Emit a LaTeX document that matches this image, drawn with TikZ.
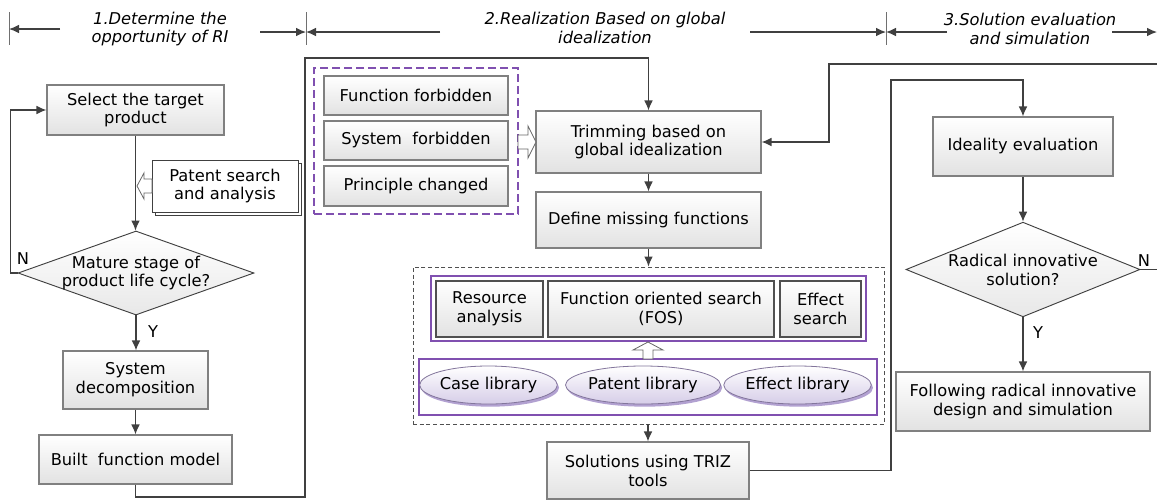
\documentclass[tikz,border=0pt]{standalone}
\usepackage{fontspec}
\setmainfont{DejaVu Sans}
\usetikzlibrary{arrows.meta,shapes.geometric,shadows,calc}
\definecolor{lineclr}{HTML}{404040}
\definecolor{boxedge}{HTML}{808080}
\definecolor{darkedge}{HTML}{505050}
\definecolor{boxbot}{HTML}{E2E2E2}
\definecolor{purp}{HTML}{8050B0}
\definecolor{ellfill}{HTML}{D6CDE8}
\definecolor{ellshade}{HTML}{AE9CCF}
\definecolor{tickclr}{HTML}{707070}
% a node spanning the pixel rectangle (x1,y1)-(x2,y2): [style]{name}{x1}{y1}{x2}{y2}{text}
\newcommand\pbox[7][box]{%
  \node[#1, minimum width={(#5-#3)*0.75pt}, minimum height={(#6-#4)*0.75pt}]
    (#2) at ({(#3+#5)/2},{(#4+#6)/2}) {#7};}
\begin{document}
\begin{tikzpicture}[x=0.75pt,y=-0.75pt,
  font=\fontsize{12.2}{14.2}\selectfont,
  box/.style={draw=boxedge, line width=0.8pt, top color=white, bottom color=boxbot,
              inner sep=0pt, align=center},
  dbox/.style={box, draw=darkedge},
  plain/.style={draw=lineclr, line width=0.7pt, fill=white, inner sep=0pt, align=center},
  frame/.style={draw=purp, line width=0.8pt, fill=white, inner sep=0pt},
  dia/.style={diamond, draw=lineclr, line width=0.7pt, top color=white, bottom color=boxbot!80,
              inner sep=0pt},
  ell/.style={ellipse, draw=ellshade!75!black, line width=0.6pt, top color=white, bottom color=ellfill,
              inner sep=0pt, align=center,
              drop shadow={shadow xshift=1.3pt, shadow yshift=-2pt, fill=ellshade, opacity=0.95}},
  ln/.style={draw=lineclr, line width=0.9pt},
  arr/.style={ln, -{Latex[length=7.5pt,width=6.5pt]}},
  hollow/.style={draw=lineclr!80, line width=0.6pt, fill=white},
  tick/.style={draw=tickclr, line width=0.7pt},
  hdr/.style={font=\fontsize{12.2}{13.8}\selectfont\itshape, align=center, text=black},
  lbl/.style={inner sep=0pt}]
\useasboundingbox (0,0) rectangle (1157,501);

% ---------- phase headers ----------
\coordinate (t1a) at (9,12);   \coordinate (t1b) at (9,45);
\coordinate (t2a) at (306,12); \coordinate (t2b) at (306,45);
\coordinate (t3a) at (886,12); \coordinate (t3b) at (886,45);
\draw[tick] (t1a) -- (t1b);
\draw[tick] (t2a) -- (t2b);
\draw[tick] (t3a) -- (t3b);
\node[hdr] (h1) at (160,29) {1.Determine the\\opportunity of RI};
\node[hdr] (h2) at (605,28) {2.Realization Based on global\\idealization};
\node[hdr] (h3) at (1030,29) {3.Solution evaluation\\and simulation};
\draw[arr] (60,29) -- (t1a |- 0,29);
\draw[arr] (260,32) -- (t2a |- 0,32);
\draw[arr] (440,32) -- (t2a |- 0,32);
\draw[arr] (750,32) -- (t3a |- 0,32);
\draw[arr] (947,32) -- (t3a |- 0,32);
\draw[arr] (1112,32) -- (1157,32);

% ---------- phase 1 ----------
\pbox{sel}{47}{85}{224}{135}{Select the target\\product}
\pbox[plain]{patsh}{155}{163}{301}{215}{}
\pbox[plain]{pat}{152}{160}{298}{212}{Patent search\\and analysis}
\node[dia, minimum width=177pt, minimum height=63pt] (mat) at (136,273) {};
\node[lbl, align=center] (matt) at (mat) {Mature stage of\\product life cycle?};
\pbox{sys}{63}{351}{208}{409}{System\\decomposition}
\pbox{blt}{39}{435}{232}{484}{Built~~function model}

\draw[arr] (sel.south) -- (sel.south |- mat.north);
\draw[hollow] (152,179) -- (144,179) -- (144,173) -- (137,186) -- (144,199)
              -- (144,193) -- (152,193) -- cycle;
\draw[arr] (mat.west) -- ++(-7,0) |- (sel.west);
\node[lbl] (nl1) at (23,259) {N};
\draw[arr] (mat.south) -- (mat.south |- sys.north);
\node[lbl] (yl1) at (153,332) {Y};
\draw[arr] (sys.south) -- (sys.south |- blt.north);

% ---------- phase 2 ----------
\pbox[{draw=purp, line width=0.9pt, dash pattern=on 6pt off 3pt, inner sep=0pt}]{forb}{314}{68}{518}{214}{}
\pbox{ff}{324}{76}{508}{115}{Function forbidden}
\pbox{sf}{324}{121}{508}{160}{System~~forbidden}
\pbox{pc}{324}{166}{508}{206}{Principle changed}

\pbox{trim}{536}{111}{761}{173}{Trimming based on\\global idealization}
\pbox{def}{536}{192}{761}{248}{Define missing functions}

\pbox[{draw=darkedge, line width=0.7pt, dash pattern=on 3pt off 2pt, inner sep=0pt}]{tools}{413}{267}{884}{424}{}
\pbox[frame]{meth}{431}{276}{866}{341}{}
\pbox[dbox]{ra}{436}{281}{543}{337}{Resource\\analysis}
\pbox[dbox]{fos}{548}{281}{774}{337}{Function oriented search\\(FOS)}
\pbox[dbox]{es}{780}{281}{861}{337}{Effect\\search}
\pbox[frame]{libs}{419}{359}{877}{415}{}
\pbox[ell]{cl}{421}{366}{556}{404}{Case library}
\pbox[ell]{pl}{567}{366}{719}{404}{Patent library}
\pbox[ell]{el}{725}{366}{870}{404}{Effect library}
\draw[hollow] (643,359) -- (643,350) -- (633,350) -- (648,342) -- (663,350)
              -- (653,350) -- (653,359) -- cycle;

\pbox{sol}{547}{442}{749}{499}{Solutions using TRIZ\\tools}

\coordinate (b1) at (305,497);
\coordinate (b2) at (trim.north |- 0,58);
\draw[arr] (blt.south) |- (b1) |- (b2) -- (trim.north);
\draw[hollow] (518,135) -- (528,135) -- (528,126) -- (536,142) -- (528,158)
              -- (528,149) -- (518,149) -- cycle;
\draw[arr] (trim.south) -- (def.north);
\draw[arr] (def.south) -- (def.south |- tools.north);
\draw[arr] (tools.south -| sol.north) -- (sol.north);

% ---------- phase 3 ----------
\pbox{ideal}{933}{117}{1113}{176}{Ideality evaluation}
\node[dia, minimum width=175.5pt, minimum height=71pt] (rad) at (1023,269.5) {};
\node[lbl, align=center] (radt) at (rad) {Radical innovative\\solution?};
\pbox{fol}{896}{372}{1150}{431}{Following radical innovative\\design and simulation}

\coordinate (r1) at (891,80);
\draw[arr] (sol.east) -| (r1) -| (ideal.north);
\draw[arr] (ideal.south) -- (ideal.south |- rad.north);
\draw[arr] (rad.south) -- (rad.south |- fol.north);
\node[lbl] (yl2) at (1038,333) {Y};
\node[lbl] (nl2) at (1144,261) {N};
\coordinate (e1) at (1162,269.5);
\coordinate (e2) at (1162,64);
\coordinate (e3) at (829,64);
\draw[arr] (rad.east) -- (e1) -- (e2) -- (e3) |- (trim.east);
\end{tikzpicture}
\end{document}
